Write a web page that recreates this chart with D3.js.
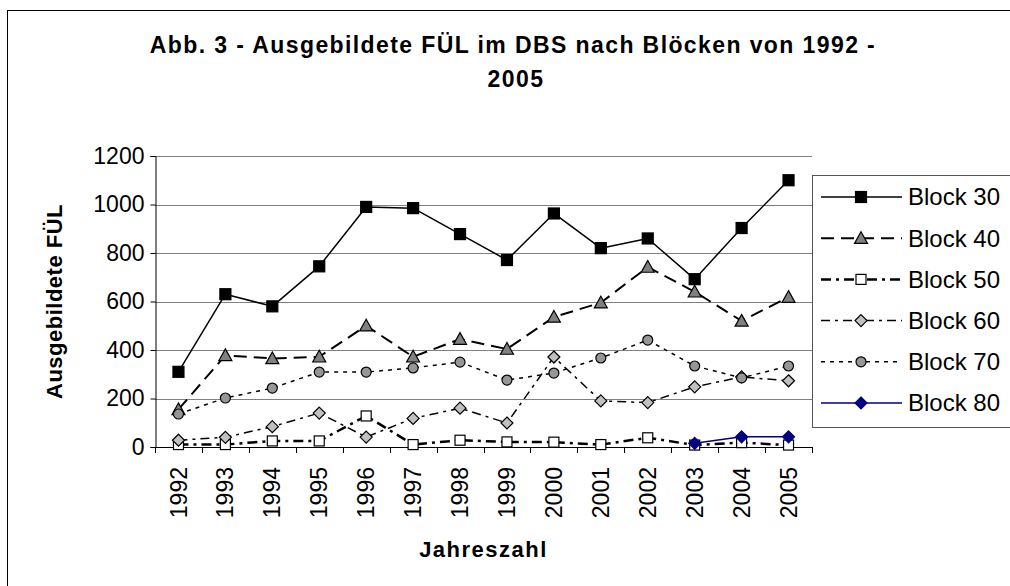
<!DOCTYPE html>
<html>
<head>
<meta charset="utf-8">
<script src="https://cdn.jsdelivr.net/npm/d3@7"></script>
<style>
  html, body { margin: 0; padding: 0; background: #fff; }
  svg { display: block; font-family: "Liberation Sans", Arial, sans-serif; }
</style>
</head>
<body>
<svg id="chart" width="1010" height="586"></svg>
<script>
// ---- data ----
const years = ["1992","1993","1994","1995","1996","1997","1998","1999","2000","2001","2002","2003","2004","2005"];
const block30 = [310, 630, 580, 745, 990, 985, 878, 771, 963, 820, 860, 692, 903, 1100];
const block40 = [155, 378, 365, 372, 500, 372, 445, 404, 536, 595, 742, 640, 520, 618];
const block50 = [10, 10, 25, 25, 128, 10, 28, 21, 20, 10, 38, 8, 18, 8];
const block60 = [28, 40, 84, 140, 41, 118, 160, 99, 371, 190, 183, 248, 289, 273];
const block70 = [136, 202, 243, 309, 309, 326, 350, 276, 305, 367, 441, 334, 285, 334];
const block80 = [null, null, null, null, null, null, null, null, null, null, null, 15, 42, 42];
const seriesNames = ["Block 30","Block 40","Block 50","Block 60","Block 70","Block 80"];
const yTicks = [0, 200, 400, 600, 800, 1000, 1200];
const titleLines = ["Abb. 3 - Ausgebildete FÜL im DBS nach Blöcken von 1992 -", "2005"];
const yTitle = "Ausgebildete FÜL";
const xTitle = "Jahreszahl";

// ---- styles ----
const styles = [
  {stroke:"#000", width:1.5, dash:null,        marker:"square",   fill:"#000",    size:11},
  {stroke:"#000", width:2,   dash:"13,7",      marker:"triangle", fill:"#808080", size:13},
  {stroke:"#000", width:2.5, dash:"10,5,3,5",  marker:"square",   fill:"#fff",    size:10},
  {stroke:"#000", width:1.5, dash:"9,5,3,5",   marker:"diamond",  fill:"#c0c0c0", size:12},
  {stroke:"#000", width:1.5, dash:"4,5",       marker:"circle",   fill:"#969696", size:10},
  {stroke:"#000080", width:1.5, dash:null,     marker:"diamond",  fill:"#000080", size:12}
];
const allSeries = [block30, block40, block50, block60, block70, block80];

const svg = d3.select("#chart");
const L = 155, R = 812, T = 156, B = 447;

// chart area border
svg.append("rect").attr("x", 7.5).attr("y", 10.5).attr("width", 1100).attr("height", 700)
  .attr("fill", "#fff").attr("stroke", "#000").attr("stroke-width", 1);

const x = d3.scaleBand().domain(years).range([L, R]).padding(0);
const y = d3.scaleLinear().domain([0, 1200]).range([B, T]);
const cx = d => x(d) + x.bandwidth() / 2;

// gridlines
svg.append("g").selectAll("line").data(yTicks.filter(v => v > 0)).join("line")
  .attr("x1", L).attr("x2", R)
  .attr("y1", d => Math.round(y(d)) + 0.5).attr("y2", d => Math.round(y(d)) + 0.5)
  .attr("stroke", "#808080").attr("stroke-width", 1);

// y axis
const yAxis = svg.append("g").attr("transform", `translate(${L + 0.5},0)`)
  .call(d3.axisLeft(y).tickValues(yTicks).tickSize(5).tickPadding(6).tickFormat(d3.format("d")));
yAxis.select(".domain").attr("stroke", "#000");
yAxis.selectAll(".tick line").attr("stroke", "#000");
yAxis.selectAll("text").attr("font-size", 23).attr("fill", "#000")
  .attr("font-family", "'Liberation Sans', Arial, sans-serif");

// x axis line and boundary ticks
svg.append("line").attr("x1", L).attr("x2", R).attr("y1", B + 0.5).attr("y2", B + 0.5)
  .attr("stroke", "#000");
const bounds = years.map(d => x(d)).concat([R]);
svg.append("g").selectAll("line").data(bounds).join("line")
  .attr("x1", d => Math.round(d) + 0.5).attr("x2", d => Math.round(d) + 0.5)
  .attr("y1", B).attr("y2", B + 6).attr("stroke", "#000");

// x tick labels (rotated)
const xAxis = svg.append("g").attr("transform", `translate(0,${B})`)
  .call(d3.axisBottom(x).tickSize(0).tickPadding(0));
xAxis.select(".domain").remove();
xAxis.selectAll("text")
  .attr("font-size", 23).attr("fill", "#000")
  .attr("font-family", "'Liberation Sans', Arial, sans-serif")
  .attr("text-anchor", "end").attr("dy", "0.35em").attr("y", 0)
  .attr("transform", "translate(0,20) rotate(-90)");

// marker drawing
function drawMarker(g, type, size, fill, stroke) {
  const h = size / 2;
  if (type === "square") {
    g.append("rect").attr("x", -h).attr("y", -h).attr("width", size).attr("height", size)
      .attr("fill", fill).attr("stroke", stroke).attr("stroke-width", 1.2);
  } else if (type === "triangle") {
    g.append("path").attr("d", `M0,${-h} L${h},${h * 0.8} L${-h},${h * 0.8} Z`)
      .attr("fill", fill).attr("stroke", stroke).attr("stroke-width", 1.2);
  } else if (type === "diamond") {
    g.append("path").attr("d", `M0,${-h} L${h},0 L0,${h} L${-h},0 Z`)
      .attr("fill", fill).attr("stroke", stroke).attr("stroke-width", 1.2);
  } else if (type === "circle") {
    g.append("circle").attr("r", h).attr("fill", fill).attr("stroke", stroke).attr("stroke-width", 1.2);
  }
}

// series
const line = d3.line().defined(d => d.v !== null).x(d => cx(d.year)).y(d => y(d.v));
allSeries.forEach((vals, i) => {
  const st = styles[i];
  const pts = years.map((yr, j) => ({year: yr, v: vals[j]}));
  const g = svg.append("g");
  g.append("path").datum(pts).attr("d", line).attr("fill", "none")
    .attr("stroke", st.stroke).attr("stroke-width", st.width)
    .attr("stroke-dasharray", st.dash).attr("stroke-linejoin", "round");
  pts.filter(p => p.v !== null).forEach(p => {
    const mg = g.append("g").attr("transform", `translate(${cx(p.year)},${y(p.v)})`);
    drawMarker(mg, st.marker, st.size, st.fill, i === 5 ? "#000080" : "#000");
  });
});

// legend
const lg = svg.append("g");
lg.append("rect").attr("x", 812.5).attr("y", 175.5).attr("width", 300).attr("height", 252)
  .attr("fill", "#fff").attr("stroke", "#555").attr("stroke-width", 1);
seriesNames.forEach((name, i) => {
  const st = styles[i];
  const ly = 197 + i * 41.2;
  lg.append("line").attr("x1", 821).attr("x2", 902).attr("y1", ly).attr("y2", ly)
    .attr("stroke", st.stroke).attr("stroke-width", st.width).attr("stroke-dasharray", st.dash);
  const mg = lg.append("g").attr("transform", `translate(861,${ly})`);
  drawMarker(mg, st.marker, st.size, st.fill, i === 5 ? "#000080" : "#000");
  lg.append("text").attr("x", 908).attr("y", ly).attr("dy", "0.35em")
    .attr("font-size", 24).attr("fill", "#000").text(name);
});

// titles
svg.append("text").attr("x", 513).attr("y", 53).attr("text-anchor", "middle")
  .attr("font-size", 23).attr("font-weight", "bold").attr("letter-spacing", 1.4).text(titleLines[0]);
svg.append("text").attr("x", 516).attr("y", 87).attr("text-anchor", "middle")
  .attr("font-size", 23).attr("font-weight", "bold").attr("letter-spacing", 1.4).text(titleLines[1]);
svg.append("text").attr("transform", `translate(62,${(T + B) / 2}) rotate(-90)`)
  .attr("text-anchor", "middle").attr("font-size", 22).attr("font-weight", "bold")
  .attr("letter-spacing", 0.5).text(yTitle);
svg.append("text").attr("x", (L + R) / 2).attr("y", 557).attr("text-anchor", "middle")
  .attr("font-size", 22).attr("font-weight", "bold").attr("letter-spacing", 1.5).text(xTitle);
</script>
</body>
</html>
